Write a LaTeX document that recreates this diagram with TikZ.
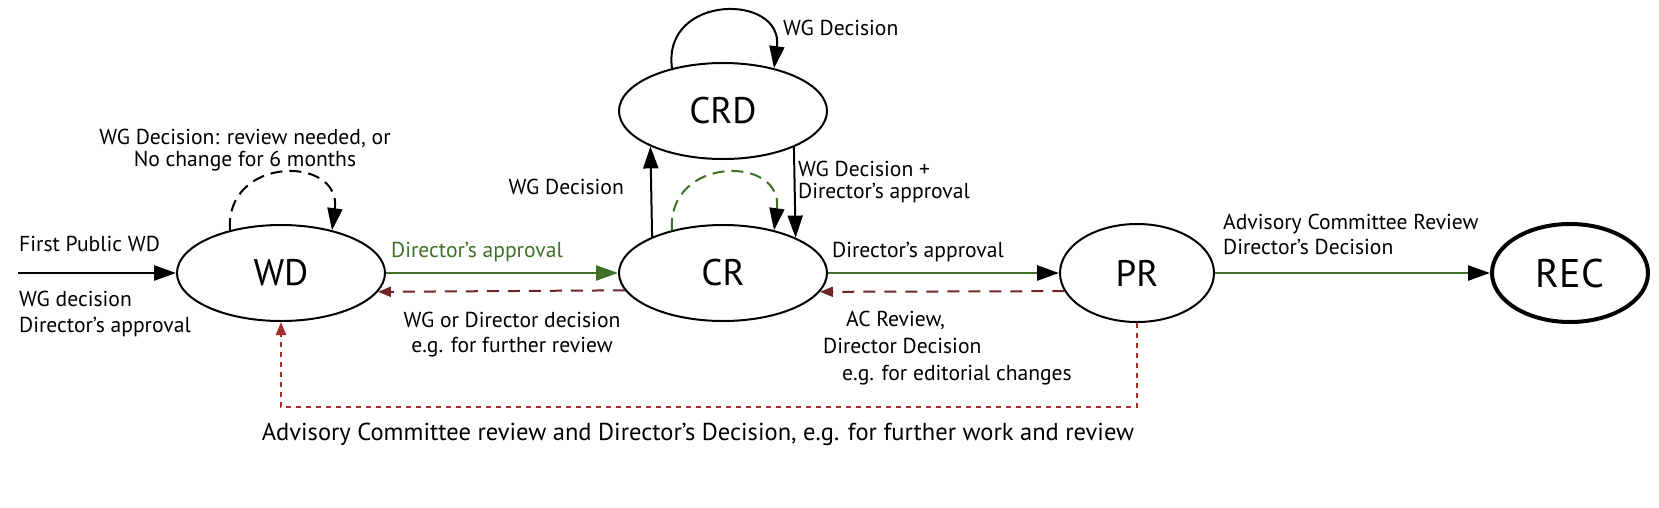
\documentclass[tikz,border=0pt]{standalone}
\usepackage{fontspec}
\setmainfont{PT Sans}
\usetikzlibrary{shapes.geometric, arrows.meta}
\definecolor{appgreen}{RGB}{62,112,40}
\definecolor{backred}{RGB}{112,38,38}
\definecolor{dotred}{RGB}{165,45,45}

\begin{document}
\begin{tikzpicture}[x=1pt, y=1pt,
    >={Triangle[length=22pt, width=15pt]},
    state/.style={draw, ellipse, line width=2pt, inner sep=0pt, minimum width=208pt, minimum height=96pt, font=\fontsize{37}{42}\selectfont},
    lbl/.style={font=\fontsize{21.6}{26}\selectfont, inner sep=0pt},
    fwd/.style={->, line width=2.5pt},
    approve/.style={draw=appgreen, line width=2.5pt, -{Triangle[length=22pt, width=15pt, color=black]}},
    selfloop/.style={->, line width=2pt, dash pattern=on 12pt off 7pt},
    back/.style={draw=backred, line width=2pt, dash pattern=on 12pt off 9pt, -{Triangle[length=13pt, width=10pt]}},
    acback/.style={draw=dotred, line width=2.5pt, dash pattern=on 5pt off 5pt, -{Triangle[length=13pt, width=10pt]}}]
    \useasboundingbox (0, 0) rectangle (1659, -507);

    \node[state] at (281, -273) (WD) {WD};
    \node[state] at (723, -273) (CR) {CR};
    \node[state] at (723, -111) (CRD) {CRD};
    \node[state, minimum width=154pt, minimum height=98pt] at (1137, -273) (PR) {PR};
    \node[state, line width=4pt, minimum width=156pt, minimum height=98pt, font=\fontsize{40}{46}\selectfont] at (1570, -273) (REC) {REC};
    \coordinate (entry) at (18, -273);
    \coordinate (dip) at (1137, -407);

    \node[lbl, anchor=base west] at (19, -251) (fpwd) {First Public WD};
    \node[lbl, anchor=base west, align=left] at (19, -332) (fpwdhow) {WG decision\\Director's approval};
    \node[lbl, anchor=base, align=center, font=\fontsize{21.6}{22}\selectfont] at (245, -166) (wdloop) {WG Decision: review needed, or\\No change for 6 months};
    \node[lbl, anchor=base west, text=appgreen] at (391, -257) (crgo) {Director's approval};
    \node[lbl, anchor=base, align=center, font=\fontsize{21.6}{25}\selectfont] at (512, -352) (wdback) {WG or Director decision\\e.g. for further review};
    \node[lbl, anchor=base east] at (624, -194) (crdgo) {WG Decision};
    \node[lbl, anchor=base west] at (783, -35) (crdloop) {WG Decision};
    \node[lbl, anchor=base west, align=left, font=\fontsize{21.6}{22}\selectfont] at (798, -198) (crdback) {WG Decision +\\Director's approval};
    \node[lbl, anchor=base west] at (832, -257) (prgo) {Director's approval};
    \node[lbl, anchor=base west, align=left, font=\fontsize{21.6}{27}\selectfont] at (823, -380) (crback) {\hspace*{23pt}AC Review,\\Director Decision\\\hspace*{19pt}e.g. for editorial changes};
    \node[lbl, anchor=base west, align=left, font=\fontsize{21.6}{25}\selectfont] at (1223, -254) (recgo) {Advisory Committee Review\\Director's Decision};
    \node[lbl, anchor=base, font=\fontsize{24.5}{30}\selectfont] at (698, -440) (acnote) {Advisory Committee review and Director's Decision, e.g. for further work and review};

    \draw[fwd] (entry) -- (WD);
    \draw[fwd, draw=appgreen] (WD) -- (CR);
    \draw[approve] (CR) -- (PR);
    \draw[approve] (PR) -- (REC);
    \draw[fwd, line width=2pt] (CR.153.1) -- (CRD.206.9);
    \draw[fwd, line width=2pt] (CRD.333.1) -- (CR.26.9);
    \draw[back] (CR.190.6) -- (WD.349.4);
    \draw[back] (PR.194.1) -- (CR.349.4);
    \draw[acback] (PR.south) -- (dip) -| (WD.south);
    \draw[selfloop] (WD.140) .. controls +(-5, 75) and +(10, 75) .. (WD.40);
    \draw[selfloop, draw=appgreen, -{Triangle[length=22pt, width=15pt, color=black]}] (CR.140) .. controls +(-5, 75) and +(10, 75) .. (CR.40);
    \draw[fwd, line width=2pt] (CRD.140) .. controls +(-10, 75) and +(10, 75) .. (CRD.40);
\end{tikzpicture}
\end{document}
